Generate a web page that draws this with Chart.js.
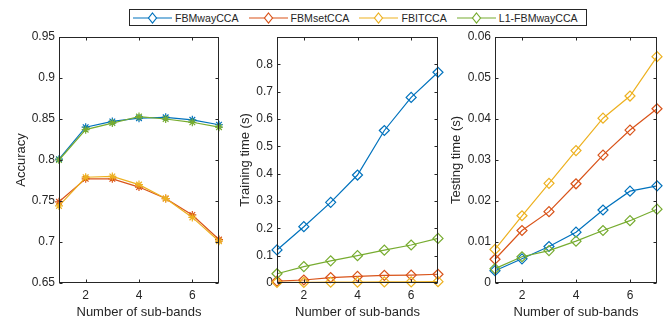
<!DOCTYPE html>
<html>
<head>
<meta charset="utf-8">
<script src="https://cdn.jsdelivr.net/npm/chart.js@4"></script>
<style>
  html, body { margin: 0; padding: 0; background: #fff; }
  body { width: 665px; height: 320px; position: relative; overflow: hidden;
         font-family: "Liberation Sans", Arial, sans-serif; color: #262626; }
  canvas { position: absolute; top: 0; }
  #legend { position: absolute; left: 129px; top: 9px; width: 456px; height: 15px;
            border: 1px solid #262626; background: #fff; display: flex; align-items: center;
            font-size: 10.6px; white-space: nowrap; }
  .item { display: flex; align-items: center; margin-left: 10px; }
  .item:first-child { margin-left: 3px; }
  .item svg { margin-right: 3px; }
</style>
</head>
<body>
<div id="legend"></div>
<canvas id="accChart" width="225" height="320" style="left:0"></canvas>
<canvas id="trainChart" width="220" height="320" style="left:225px"></canvas>
<canvas id="testChart" width="220" height="320" style="left:445px"></canvas>
<script>
// Data
const subBands = [1, 2, 3, 4, 5, 6, 7];
const seriesNames = ['FBMwayCCA', 'FBMsetCCA', 'FBITCCA', 'L1-FBMwayCCA'];
const seriesColors = ['#0072BD', '#D95319', '#EDB120', '#77AC30'];
const xTicks = [2, 4, 6];

// Accuracy
const accWay = [0.801, 0.840, 0.847, 0.851, 0.852, 0.849, 0.843];
const accSet = [0.749, 0.777, 0.777, 0.767, 0.753, 0.733, 0.703];
const accIT = [0.744, 0.779, 0.780, 0.770, 0.753, 0.730, 0.701];
const accL1 = [0.800, 0.837, 0.845, 0.853, 0.850, 0.846, 0.840];

// Training time (s)
const trainWay = [0.121, 0.206, 0.295, 0.395, 0.558, 0.679, 0.771];
const trainSet = [0.007, 0.011, 0.020, 0.024, 0.028, 0.029, 0.032];
const trainIT = [0.002, 0.002, 0.003, 0.003, 0.004, 0.004, 0.005];
const trainL1 = [0.034, 0.060, 0.081, 0.100, 0.120, 0.139, 0.163];

// Testing time (s)
const testWay = [0.0030, 0.0059, 0.0089, 0.0124, 0.0178, 0.0224, 0.0237];
const testSet = [0.0058, 0.0128, 0.0174, 0.0242, 0.0312, 0.0373, 0.0425];
const testIT = [0.0082, 0.0164, 0.0243, 0.0323, 0.0402, 0.0456, 0.0552];
const testL1 = [0.0035, 0.0064, 0.0079, 0.0102, 0.0128, 0.0152, 0.0180];

const textColor = '#262626';
const fontFamily = '"Liberation Sans", Arial, sans-serif';

// Build the legend
const legend = document.getElementById('legend');
seriesNames.forEach((name, i) => {
    const item = document.createElement('div');
    item.className = 'item';
    item.innerHTML = '<svg width="39" height="12"><line x1="0" y1="6" x2="39" y2="6" stroke="' + seriesColors[i] +
        '" stroke-width="1.2"/><path d="M19.5 1 L23.5 6 L19.5 11 L15.5 6 Z" fill="#fff" stroke="' + seriesColors[i] +
        '" stroke-width="1.2"/></svg><span>' + name + '</span>';
    legend.appendChild(item);
});

// Box around the plot area with inward tick marks on all sides
const boxPlugin = {
    id: 'box',
    afterDraw(chart) {
        const {ctx, chartArea: a, scales: {x, y}} = chart;
        const l = Math.round(a.left) + 0.5, r = Math.round(a.right) - 0.5;
        const t = Math.round(a.top) + 0.5, b = Math.round(a.bottom) - 0.5;
        ctx.save();
        ctx.strokeStyle = textColor;
        ctx.lineWidth = 1;
        ctx.strokeRect(l, t, r - l, b - t);
        ctx.beginPath();
        x.ticks.forEach((tk) => {
            const px = Math.round(x.getPixelForValue(tk.value)) + 0.5;
            ctx.moveTo(px, b); ctx.lineTo(px, b - 3);
            ctx.moveTo(px, t); ctx.lineTo(px, t + 3);
        });
        y.ticks.forEach((tk) => {
            const py = Math.round(y.getPixelForValue(tk.value)) + 0.5;
            ctx.moveTo(l, py); ctx.lineTo(l + 3, py);
            ctx.moveTo(r, py); ctx.lineTo(r - 3, py);
        });
        ctx.stroke();
        ctx.restore();
    }
};

function makeDatasets(lists, marker, radius) {
    return lists.map((vals, i) => ({
        label: seriesNames[i],
        data: vals.map((v, k) => ({x: subBands[k], y: v})),
        borderColor: seriesColors[i],
        backgroundColor: seriesColors[i],
        borderWidth: 1.2,
        pointStyle: marker,
        pointRadius: radius,
        pointBorderWidth: 1.2,
        pointBackgroundColor: 'rgba(255,255,255,0)',
        pointBorderColor: seriesColors[i],
        tension: 0,
        clip: false,
        order: 4 - i
    }));
}

function createChart(elementId, lists, marker, radius, ylab, yOpts, yWidth, titlePad, rightPad) {
    return new Chart(document.getElementById(elementId), {
        type: 'line',
        data: {datasets: makeDatasets(lists, marker, radius)},
        options: {
            responsive: false,
            animation: false,
            events: [],
            layout: {padding: {top: 37, right: rightPad, bottom: 0, left: 0}},
            plugins: {legend: {display: false}, tooltip: {enabled: false}},
            scales: {
                x: {
                    type: 'linear',
                    min: 1,
                    max: 7,
                    grid: {display: false, drawTicks: false},
                    border: {display: false},
                    afterBuildTicks: (scale) => { scale.ticks = xTicks.map((v) => ({value: v})); },
                    afterFit: (scale) => { scale.height = 37; },
                    ticks: {color: textColor, padding: 5, maxRotation: 0,
                            font: {family: fontFamily, size: 12}},
                    title: {display: true, text: 'Number of sub-bands', color: textColor,
                            padding: {top: 0, bottom: 0}, font: {family: fontFamily, size: 13}}
                },
                y: {
                    min: yOpts.min,
                    max: yOpts.max,
                    grid: {display: false, drawTicks: false},
                    border: {display: false},
                    afterFit: (scale) => { scale.width = yWidth; },
                    ticks: {
                        stepSize: yOpts.step,
                        color: textColor,
                        padding: 4,
                        font: {family: fontFamily, size: 12},
                        callback: (value) => (yOpts.hide && Math.abs(value - yOpts.hide) < 1e-9) ? '' : String(+value.toFixed(4))
                    },
                    title: {display: true, text: ylab, color: textColor,
                            padding: {top: titlePad, bottom: 0}, font: {family: fontFamily, size: 13}}
                }
            }
        },
        plugins: [boxPlugin]
    });
}

createChart('accChart', [accWay, accSet, accIT, accL1], 'star', 4, 'Accuracy',
    {min: 0.65, max: 0.95, step: 0.05}, 59, 14, 6);
createChart('trainChart', [trainWay, trainSet, trainIT, trainL1], 'rectRot', 5, 'Training time (s)',
    {min: 0, max: 0.9, step: 0.1, hide: 0.9}, 52, 13, 7);
createChart('testChart', [testWay, testSet, testIT, testL1], 'rectRot', 5, 'Testing time (s)',
    {min: 0, max: 0.06, step: 0.01}, 50, 4, 8);
</script>
</body>
</html>
